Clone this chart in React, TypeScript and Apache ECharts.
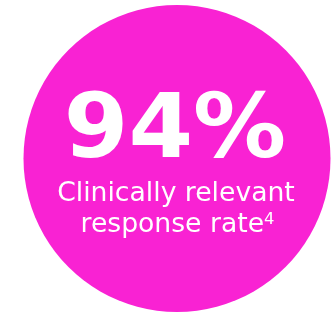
import React, { useEffect, useRef } from "react";
import * as echarts from "echarts";

const headline = ["94%"];
const captionLines = ["Clinically relevant", "response rate"];
const footnote = ["4"];

const FONT = "Verdana, 'DejaVu Sans', sans-serif";

export default function App() {
  const ref = useRef<HTMLDivElement>(null);
  useEffect(() => {
    if (!ref.current) return;
    const chart = echarts.init(ref.current, undefined, { renderer: "svg" });
    chart.setOption({
      animation: false,
      graphic: [
        {
          type: "circle",
          shape: { cx: 177, cy: 158.5, r: 153.5 },
          style: { fill: "#F922D3" },
        },
        {
          type: "text",
          x: 175,
          y: 126,
          scaleX: 1.045,
          style: {
            text: headline[0],
            fill: "#ffffff",
            font: `bold 89px ${FONT}`,
            align: "center",
            verticalAlign: "middle",
          },
        },
        {
          type: "text",
          x: 176,
          y: 192.5,
          scaleX: 1.025,
          style: {
            text: captionLines[0],
            fill: "#ffffff",
            font: `26px ${FONT}`,
            align: "center",
            verticalAlign: "middle",
          },
        },
        {
          type: "text",
          x: 177.5,
          y: 223.5,
          scaleX: 1.025,
          style: {
            text: `{m|${captionLines[1]}}{s|${footnote[0]}}`,
            fill: "#ffffff",
            align: "center",
            verticalAlign: "middle",
            rich: {
              m: { fontSize: 26, fontFamily: FONT, fill: "#ffffff" },
              s: { fontSize: 16, fontFamily: FONT, fill: "#ffffff", verticalAlign: "top" },
            },
          },
        },
      ],
    });
    return () => chart.dispose();
  }, []);
  return <div ref={ref} style={{ position: "fixed", left: 0, top: 0, width: 334, height: 313 }} />;
}
